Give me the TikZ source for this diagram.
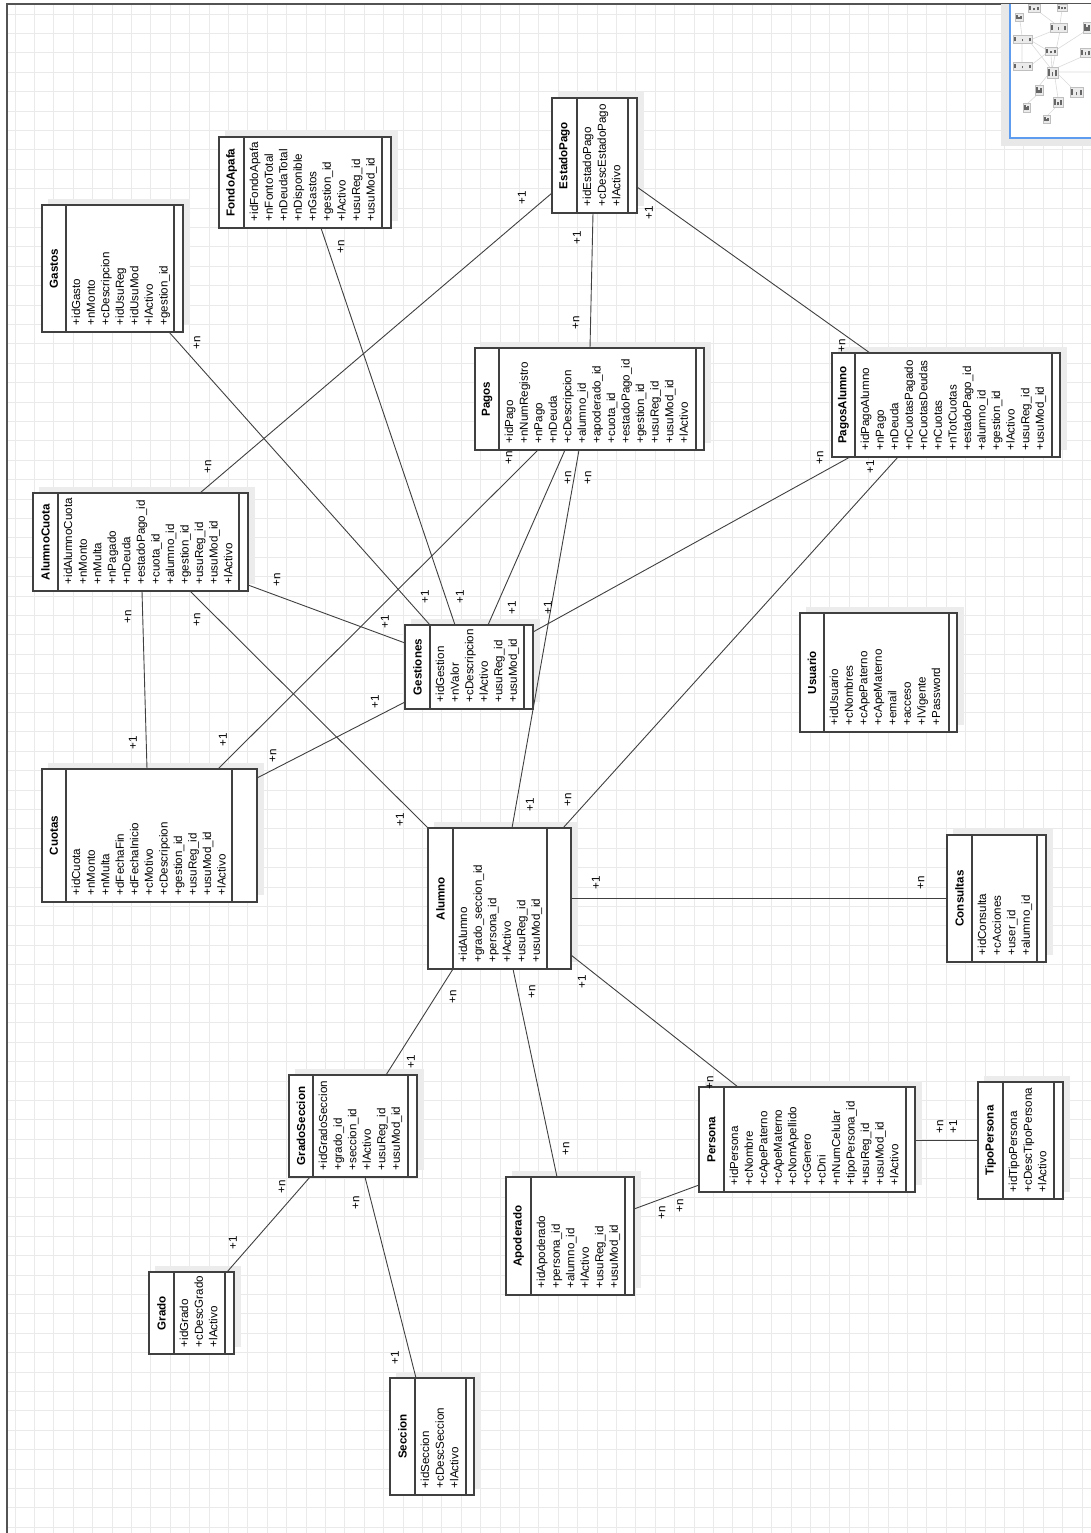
\documentclass[tikz,border=0pt]{standalone}
\usepackage{fontspec}
\setmainfont{Liberation Sans}
\usetikzlibrary{calc,fit}

\definecolor{gridgray}{HTML}{EAEAEA}
\definecolor{edge}{HTML}{404040}
\definecolor{shadowgray}{HTML}{ECECEC}
\definecolor{mapblue}{HTML}{5E9CF0}

\tikzset{
  gridline/.style={draw=gridgray, line width=0.8pt},
  frameline/.style={draw=edge!90, line width=1.4pt},
  classbox/.style={draw=edge, line width=1.2pt, fill=white, inner sep=0pt, outer sep=0pt},
  divider/.style={draw=edge, line width=1.1pt},
  conn/.style={draw=edge, line width=0.9pt},
  classtitle/.style={rotate=90, inner sep=0pt, font=\fontsize{11.6}{14}\selectfont\bfseries},
  attrlist/.style={rotate=90, anchor=north west, align=left, inner sep=0pt,
    font=\fontsize{11.6}{14.55}\selectfont},
  mult/.style={rotate=90, inner sep=0pt, font=\fontsize{11.6}{14}\selectfont},
  thumb/.style={fill=black!8, draw=black!25, line width=0.5pt},
  thumbtext/.style={draw=black!60, line width=1.3pt},
  thumbline/.style={draw=black!14, line width=0.6pt},
}

% class box: name, x1, y1, x2, y2, title divider, operations divider, attributes
\newcommand{\umlclass}[8]{%
  \fill[shadowgray] (#2+6,#3-6) rectangle (#4+7,#5-7);
  \node[classbox, fit={(#2,#3) (#4,#5)}] (#1) {};
  \draw[divider] (#6,#3) -- (#6,#5);
  \draw[divider] (#7,#3) -- (#7,#5);
  \node[classtitle] (#1-title) at ({(#2+#6)/2},{(#3+#5)/2}) {#1};
  \node[attrlist] (#1-attrs) at (#6+5,#5-6.5) {\rule{0pt}{9pt}#8};
}

\begin{document}
\begin{tikzpicture}[x=1pt, y=-1pt]
\useasboundingbox (0,0) rectangle (1091,1533);
\fill[white] (0,0) rectangle (1091,1533);

% background grid
\foreach \k in {0,...,55} \draw[gridline] ({15+\k*19.4},4) -- ({15+\k*19.4},1533);
\foreach \k in {0,...,78} \draw[gridline] (7,{14+\k*19.4}) -- (1091,{14+\k*19.4});
\draw[frameline] (7,1533) -- (7,4) -- (1091,4);

% overview panel
\fill[black!9] (1001,4) rectangle (1091,146);
\fill[white] (1010,4) rectangle (1091,138);
\draw[thumbline] (1052,70) -- (1051,55) (1052,70) -- (1030,42) (1052,70) -- (1060,31)
  (1052,70) -- (1086,55) (1047,76) -- (1039,86) (1055,78) -- (1058,98)
  (1058,74) -- (1073,89) (1058,72) -- (1091,72) (1039,93) -- (1027,104)
  (1058,105) -- (1047,116) (1050,52) -- (1030,40) (1030,40) -- (1060,28)
  (1020,21) -- (1022,36) (1022,43) -- (1022,62) (1030,66) -- (1048,52)
  (1034,8) -- (1058,26) (1062,10) -- (1060,24) (1087,30) -- (1056,50);
\foreach \a/\b/\c/\d in {1015/13/1023/21, 1028/4/1040/12, 1057/4/1067/11, 1013/35/1032/43,
  1050/23/1067/32, 1083/22/1091/33, 1045/47/1057/55, 1080/48/1091/57, 1013/62/1032/70,
  1047/67/1058/78, 1035/85/1043/95, 1070/87/1083/97, 1053/97/1063/107, 1023/103/1030/112,
  1043/115/1050/123}
{
  \filldraw[thumb] (\a,\b) rectangle (\c,\d);
  \draw[thumbtext] ({\a+2},{\d-1.5}) -- ({\a+2},{\b+2.5})
    ({(\a+\c)/2},{\d-1.5}) -- ({(\a+\c)/2},{(\b+\d)/2})
    ({\c-2},{\d-1.5}) -- ({\c-2},{\b+3});
}
\draw[mapblue, line width=1.3pt] (1010,4) -- (1010,138) -- (1091,138);

% classes
\umlclass{Gastos}{42}{205}{183}{332}{66}{174}{+idGasto\\+nMonto\\+cDescripcion\\+idUsuReg\\+idUsuMod\\+lActivo\\+gestion\_id}
\umlclass{FondoApafa}{219}{137}{391}{228}{244}{382}{+idFondoApafa\\+nFontoTotal\\+nDeudaTotal\\+nDisponible\\+nGastos\\+gestion\_id\\+lActivo\\+usuReg\_id\\+usuMod\_id}
\umlclass{EstadoPago}{552}{98}{637}{213}{577}{628}{+idEstadoPago\\+cDescEstadoPago\\+lActivo}
\umlclass{Pagos}{475}{348}{704}{450}{499}{696}{+idPago\\+nNumRegistro\\+nPago\\+nDeuda\\+cDescripcion\\+alumno\_id\\+apoderado\_id\\+cuota\_id\\+estadoPago\_id\\+gestion\_id\\+usuReg\_id\\+usuMod\_id\\+lActivo}
\umlclass{PagosAlumno}{832}{353}{1060}{457}{855}{1052}{+idPagoAlumno\\+nPago\\+nDeuda\\+nCuotasPagado\\+nCuotasDeudas\\+nCuotas\\+nTotCuotas\\+estadoPago\_id\\+alumno\_id\\+gestion\_id\\+lActivo\\+usuReg\_id\\+usuMod\_id}
\umlclass{AlumnoCuota}{33}{493}{248}{591}{58}{239}{+idAlumnoCuota\\+nMonto\\+nMulta\\+nPagado\\+nDeuda\\+estadoPago\_id\\+cuota\_id\\+alumno\_id\\+gestion\_id\\+usuReg\_id\\+usuMod\_id\\+lActivo}
\umlclass{Cuotas}{42}{769}{257}{902}{66}{232}{+idCuota\\+nMonto\\+nMulta\\+dFechaFin\\+dFechaInicio\\+cMotivo\\+cDescripcion\\+gestion\_id\\+usuReg\_id\\+usuMod\_id\\+lActivo}
\umlclass{Gestiones}{405}{625}{533}{709}{430}{524}{+idGestion\\+nValor\\+cDescripcion\\+lActivo\\+usuReg\_id\\+usuMod\_id}
\umlclass{Alumno}{428}{828}{571}{969}{453}{547}{+idAlumno\\+grado\_seccion\_id\\+persona\_id\\+lActivo\\+usuReg\_id\\+usuMod\_id}
\umlclass{Usuario}{800}{613}{957}{732}{824}{949}{+idUsuario\\+cNombres\\+cApePaterno\\+cApeMaterno\\+email\\+acceso\\+lVigente\\+Password}
\umlclass{Consultas}{947}{835}{1046}{962}{972}{1037}{+idConsulta\\+cAcciones\\+user\_id\\+alumno\_id}
\umlclass{Persona}{699}{1087}{915}{1192}{724}{906}{+idPersona\\+cNombre\\+cApePaterno\\+cApeMaterno\\+cNomApellido\\+cGenero\\+cDni\\+nNumCelular\\+tipoPersona\_id\\+usuReg\_id\\+usuMod\_id\\+lActivo}
\umlclass{TipoPersona}{978}{1082}{1063}{1199}{1003}{1054}{+idTipoPersona\\+cDescTipoPersona\\+lActivo}
\umlclass{Apoderado}{506}{1177}{634}{1295}{531}{625}{+idApoderado\\+persona\_id\\+alumno\_id\\+lActivo\\+usuReg\_id\\+usuMod\_id}
\umlclass{GradoSeccion}{289}{1075}{417}{1177}{313}{408}{+idGradoSeccion\\+grado\_id\\+seccion\_id\\+lActivo\\+usuReg\_id\\+usuMod\_id}
\umlclass{Grado}{149}{1272}{234}{1354}{174}{225}{+idGrado\\+cDescGrado\\+lActivo}
\umlclass{Seccion}{390}{1378}{474}{1495}{415}{466}{+idSeccion\\+cDescSeccion\\+lActivo}

% associations
\draw[conn] ($(Gastos.north west)+(127,127)$) -- ($(Gestiones.north west)+(25,0)$);
\draw[conn] ($(FondoApafa.north west)+(102,91)$) -- ($(Gestiones.north west)+(50,0)$);
\draw[conn] ($(EstadoPago.north west)+(0,95)$) -- ($(AlumnoCuota.north west)+(167,0)$);
\draw[conn] ($(EstadoPago.north west)+(41,115)$) -- ($(Pagos.north west)+(115,0)$);
\draw[conn] ($(EstadoPago.north west)+(85,89)$) -- ($(PagosAlumno.north west)+(38,0)$);
\draw[conn] ($(Pagos.north west)+(63,102)$) -- ($(Cuotas.north west)+(176,0)$);
\draw[conn] ($(Pagos.north west)+(90,102)$) -- ($(Gestiones.north west)+(83,0)$);
\draw[conn] ($(Pagos.north west)+(104,102)$) -- ($(Alumno.north west)+(84,0)$);
\draw[conn] ($(PagosAlumno.north west)+(18,104)$) -- ($(Gestiones.north west)+(128,7)$);
\draw[conn] ($(PagosAlumno.north west)+(66,104)$) -- ($(Alumno.north west)+(135,0)$);
\draw[conn] ($(AlumnoCuota.north west)+(109,98)$) -- ($(Cuotas.north west)+(105,0)$);
\draw[conn] ($(AlumnoCuota.north west)+(215,92)$) -- ($(Gestiones.north west)+(0,18)$);
\draw[conn] ($(AlumnoCuota.north west)+(157,98)$) -- (Alumno.north west);
\draw[conn] ($(Cuotas.north west)+(215,9)$) -- ($(Gestiones.north west)+(0,77)$);
\draw[conn] ($(Alumno.north west)+(143,70)$) -- ($(Consultas.north west)+(0,63)$);
\draw[conn] ($(Alumno.north west)+(25,141)$) -- ($(GradoSeccion.north west)+(97,0)$);
\draw[conn] ($(Alumno.north west)+(85,141)$) -- ($(Apoderado.north west)+(51,0)$);
\draw[conn] ($(Alumno.north west)+(143,127)$) -- ($(Persona.north west)+(39,0)$);
\draw[conn] ($(Apoderado.north west)+(128,32)$) -- ($(Persona.north west)+(0,98)$);
\draw[conn] ($(Persona.north west)+(216,53)$) -- ($(TipoPersona.north west)+(0,58)$);
\draw[conn] ($(GradoSeccion.north west)+(21,102)$) -- ($(Grado.north west)+(78,0)$);
\draw[conn] ($(GradoSeccion.north west)+(76,102)$) -- ($(Seccion.north west)+(26,0)$);

% multiplicities
\node[mult] (m1a) at (197,343) {+n};   \node[mult] (m1b) at (425,597) {+1};
\node[mult] (m2a) at (341,247) {+n};   \node[mult] (m2b) at (460,597) {+1};
\node[mult] (m3a) at (522,198) {+1};   \node[mult] (m3b) at (208,467) {+n};
\node[mult] (m4a) at (577,238) {+1};   \node[mult] (m4b) at (576,323) {+n};
\node[mult] (m5a) at (649,213) {+1};   \node[mult] (m5b) at (842,346) {+n};
\node[mult] (m6a) at (509,458) {+n};   \node[mult] (m6b) at (223,740) {+1};
\node[mult] (m7a) at (568,478) {+n};   \node[mult] (m7b) at (512,608) {+1};
\node[mult] (m8a) at (588,478) {+n};   \node[mult] (m8b) at (530,805) {+1};
\node[mult] (m9a) at (820,458) {+n};   \node[mult] (m9b) at (548,608) {+1};
\node[mult] (m10a) at (870,467) {+1};  \node[mult] (m10b) at (568,800) {+n};
\node[mult] (m11a) at (128,617) {+n};  \node[mult] (m11b) at (133,743) {+1};
\node[mult] (m12a) at (277,580) {+n};  \node[mult] (m12b) at (385,622) {+1};
\node[mult] (m13a) at (197,620) {+n};  \node[mult] (m13b) at (400,820) {+1};
\node[mult] (m14a) at (273,756) {+n};  \node[mult] (m14b) at (375,702) {+1};
\node[mult] (m15a) at (596,883) {+1};  \node[mult] (m15b) at (921,883) {+n};
\node[mult] (m16a) at (453,997) {+n};  \node[mult] (m16b) at (411,1062) {+1};
\node[mult] (m17a) at (532,992) {+n};  \node[mult] (m17b) at (566,1149) {+n};
\node[mult] (m18a) at (582,982) {+1};  \node[mult] (m18b) at (710,1083) {+n};
\node[mult] (m19a) at (662,1213) {+n}; \node[mult] (m19b) at (680,1206) {+n};
\node[mult] (m20a) at (940,1127) {+n}; \node[mult] (m20b) at (953,1127) {+1};
\node[mult] (m21a) at (282,1187) {+n}; \node[mult] (m21b) at (233,1243) {+1};
\node[mult] (m22a) at (356,1203) {+n}; \node[mult] (m22b) at (395,1358) {+1};
\end{tikzpicture}
\end{document}
